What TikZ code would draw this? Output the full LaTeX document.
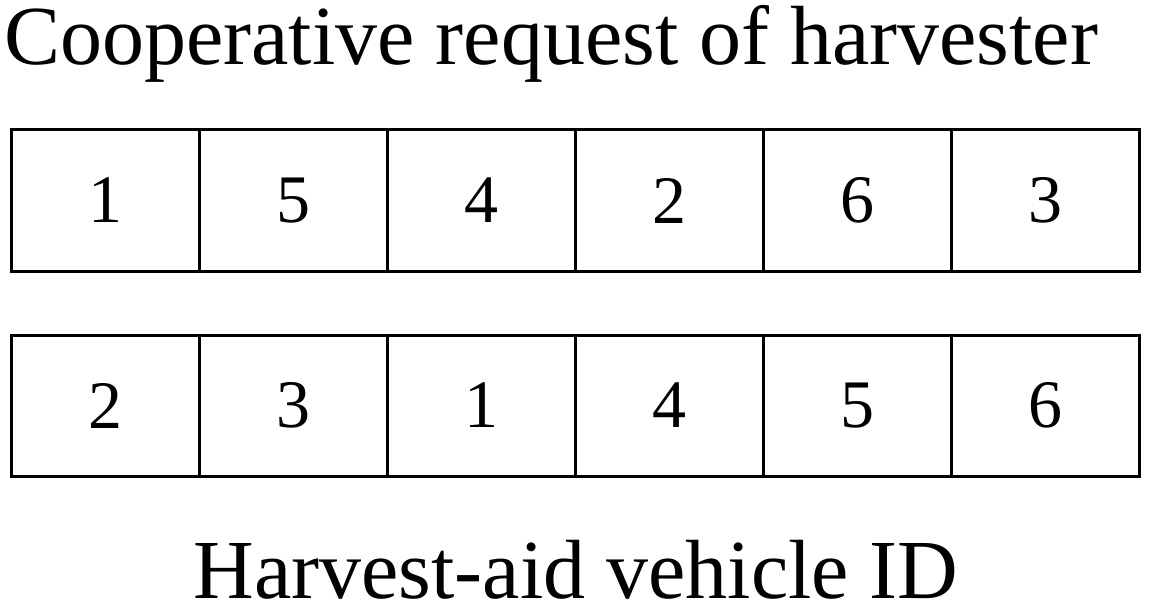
\documentclass[tikz,border=0pt]{standalone}
\usepackage{fontspec}
\setmainfont{Liberation Serif}
\usetikzlibrary{positioning}

\begin{document}
\begin{tikzpicture}[
  x=1pt, y=-1pt,
  cell/.style={draw, line width=3pt, minimum width=188pt, minimum height=141pt,
               inner sep=0pt, font=\fontsize{68}{68}\selectfont},
  lab/.style={inner sep=0pt, font=\fontsize{84}{84}\selectfont}
]
\useasboundingbox (0,0) rectangle (1149,615);

% --- geometry of the two rows
\def\xStart{11}
\def\wCell{188}
\def\yTop{200.5}
\def\yBot{405.5}

% --- title
\node[lab, anchor=base west] (title) at (4,65) {Cooperative request of harvester};

% --- cooperative request row
\foreach \n [count=\i] in {1,5,4,2,6,3}
  \node[cell] (req\i) at ({\xStart+\wCell/2+\wCell*(\i-1)},\yTop) {\n};

% --- vehicle ID row
\foreach \n [count=\i] in {2,3,1,4,5,6}
  \node[cell] (veh\i) at ({\xStart+\wCell/2+\wCell*(\i-1)},\yBot) {\n};

% --- bottom caption
\node[lab, anchor=base] (caption) at (576,598) {Harvest-aid vehicle ID};

\end{tikzpicture}
\end{document}
